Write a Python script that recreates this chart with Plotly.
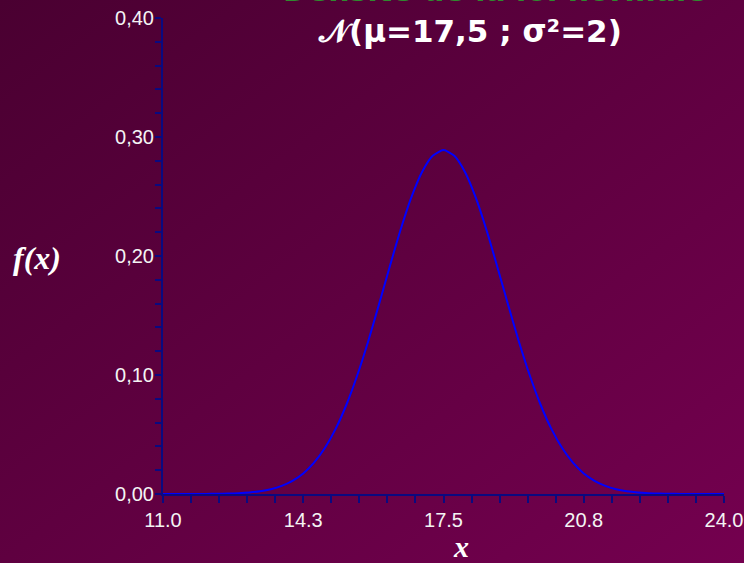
import base64
import plotly.graph_objects as go

# ---- data ----
x_values = [11.0, 11.25, 11.5, 11.75, 12.0, 12.25, 12.5, 12.75, 13.0, 13.25, 13.5, 13.75,
            14.0, 14.25, 14.5, 14.75, 15.0, 15.25, 15.5, 15.75, 16.0, 16.25, 16.5, 16.75,
            17.0, 17.25, 17.5, 17.75, 18.0, 18.25, 18.5, 18.75, 19.0, 19.25, 19.5, 19.75,
            20.0, 20.25, 20.5, 20.75, 21.0, 21.25, 21.5, 21.75, 22.0, 22.25, 22.5, 22.75,
            23.0, 23.25, 23.5, 23.75, 24.0]
fx_values = [0.0, 0.0, 0.00001, 0.00004, 0.00009, 0.00019, 0.00037, 0.00071, 0.00131, 0.00235,
             0.00407, 0.00683, 0.0111, 0.0173, 0.0263, 0.0386, 0.0547, 0.0750, 0.0996, 0.1278,
             0.1587, 0.1906, 0.2214, 0.2488, 0.2704, 0.2842, 0.2890, 0.2842, 0.2704, 0.2488,
             0.2214, 0.1906, 0.1587, 0.1278, 0.0996, 0.0750, 0.0547, 0.0386, 0.0263, 0.0173,
             0.0111, 0.00683, 0.00407, 0.00235, 0.00131, 0.00071, 0.00037, 0.00019, 0.00009,
             0.00004, 0.00001, 0.0, 0.0]
x_tick_vals = [11.0, 14.25, 17.5, 20.75, 24.0]
x_tick_text = ["11.0", "14.3", "17.5", "20.8", "24.0"]
y_tick_vals = [0.0, 0.1, 0.2, 0.3, 0.4]
y_tick_text = ["0,00", "0,10", "0,20", "0,30", "0,40"]
title_text = "<b>𝒩(μ=17,5 ; σ²=2)</b>"
top_text = "<b>Densité de la loi normale</b>"

W, H = 744, 563
ML, MR, MT, MB = 163, 20, 18, 69
PW, PH = W - ML - MR, H - MT - MB

svg = ('<svg xmlns="http://www.w3.org/2000/svg" width="744" height="563" preserveAspectRatio="none">'
       '<defs><linearGradient id="g" x1="0" y1="0" x2="1" y2="1">'
       '<stop offset="0" stop-color="#4a0031"/><stop offset="1" stop-color="#74004f"/>'
       '</linearGradient></defs><rect width="744" height="563" fill="url(#g)"/></svg>')
bg_uri = "data:image/svg+xml;base64," + base64.b64encode(svg.encode()).decode()

fig = go.Figure()
fig.add_trace(go.Scatter(
    x=x_values, y=fx_values, mode="lines",
    line=dict(color="#0000ff", width=2, shape="spline", smoothing=0.6),
    hoverinfo="skip", showlegend=False, cliponaxis=False,
))

tick_font = dict(family="Liberation Sans Narrow, Arial Narrow, Liberation Sans", size=20, color="#f4f4f4")
axis_col = "#0a0a80"

fig.update_layout(
    width=W, height=H,
    margin=dict(l=ML, r=MR, t=MT, b=MB, pad=0),
    paper_bgcolor="#5c0040",
    plot_bgcolor="rgba(0,0,0,0)",
    showlegend=False,
    images=[dict(source=bg_uri, xref="paper", yref="paper",
                 x=-ML / PW, y=1 + MT / PH, sizex=W / PW, sizey=H / PH,
                 xanchor="left", yanchor="top", sizing="stretch", layer="below")],
    xaxis=dict(range=[11, 24], showgrid=False, zeroline=False, automargin=False,
               showline=True, linecolor=axis_col, linewidth=2,
               tickmode="array", tickvals=x_tick_vals, ticktext=x_tick_text,
               ticks="outside", ticklen=7, tickwidth=1.5, tickcolor=axis_col,
               tickfont=tick_font,
               minor=dict(tick0=11, dtick=0.65, ticks="outside", ticklen=7,
                          tickwidth=1.5, tickcolor=axis_col, showgrid=False)),
    yaxis=dict(range=[0, 0.40], showgrid=False, zeroline=False, automargin=False,
               showline=True, linecolor=axis_col, linewidth=2,
               tickmode="array", tickvals=y_tick_vals, ticktext=y_tick_text,
               ticks="outside", ticklen=6, tickwidth=1.5, tickcolor=axis_col,
               tickfont=tick_font, ticklabelstandoff=-3,
               minor=dict(tick0=0, dtick=0.02, ticks="outside", ticklen=6,
                          tickwidth=1.5, tickcolor=axis_col, showgrid=False)),
    annotations=[
        dict(text=title_text, xref="paper", yref="paper",
             x=(470 - ML) / PW, y=(494 - 31) / PH, xanchor="center", yanchor="middle",
             showarrow=False, font=dict(family="DejaVu Sans, Verdana", size=31, color="#ffffff")),
        dict(text=top_text, xref="paper", yref="paper",
             x=(495 - ML) / PW, y=(494 - 10) / PH, xanchor="center", yanchor="bottom",
             showarrow=False, font=dict(family="DejaVu Sans, Verdana", size=30, color="#2f8a2f")),
        dict(text="<b><i>f(x)</i></b>", xref="paper", yref="paper",
             x=(37 - ML) / PW, y=(494 - 258) / PH, xanchor="center", yanchor="middle",
             showarrow=False, font=dict(family="Liberation Serif, Times New Roman", size=32, color="#ffffff")),
        dict(text="<b><i>x</i></b>", xref="paper", yref="paper",
             x=(461 - ML) / PW, y=(494 - 546) / PH, xanchor="center", yanchor="middle",
             showarrow=False, font=dict(family="Liberation Serif, Times New Roman", size=30, color="#ffffff")),
    ],
)

fig.write_html("out.html", config={"displayModeBar": False},
               post_script="document.body.style.margin='0';document.body.style.overflow='hidden';")
